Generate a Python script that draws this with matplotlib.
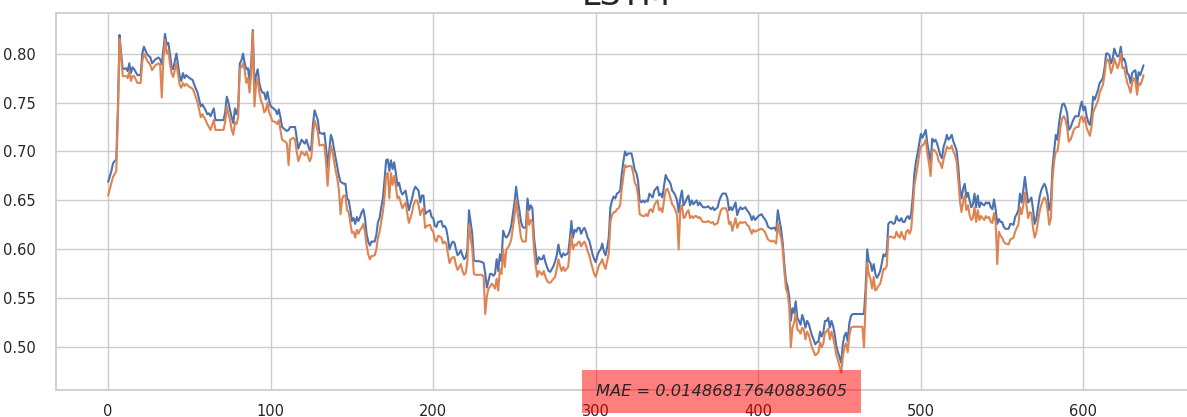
import matplotlib
matplotlib.use("Agg")
import matplotlib.pyplot as plt
import seaborn as sns

# sample index for each reading
steps = [0, 2, 3, 5, 6, 7, 8, 9, 11, 12, 13, 14, 15, 16, 18, 20, 21, 22, 24, 26,
         27, 29, 31, 32, 33, 34, 35, 36, 37, 38, 39, 40, 42, 44, 45, 46, 47, 48, 50, 52,
         53, 55, 57, 58, 60, 61, 62, 63, 65, 66, 68, 71, 72, 73, 74, 75, 76, 77, 78, 79,
         80, 81, 82, 83, 84, 85, 86, 87, 88, 89, 90, 91, 92, 93, 94, 95, 96, 97, 98, 99,
         100, 101, 103, 104, 105, 106, 107, 109, 110, 111, 112, 114, 115, 116, 117, 119, 121, 122, 124, 125,
         126, 127, 128, 129, 130, 132, 133, 134, 135, 136, 137, 138, 139, 140, 141, 142, 143, 144, 145, 146,
         147, 148, 149, 150, 151, 152, 153, 154, 155, 156, 157, 158, 159, 160, 161, 162, 164, 165, 166, 167,
         168, 169, 170, 171, 172, 173, 174, 175, 176, 177, 178, 179, 180, 181, 182, 183, 184, 185, 186, 187,
         188, 189, 190, 191, 192, 193, 194, 195, 196, 198, 199, 200, 201, 202, 203, 205, 206, 207, 208, 209,
         210, 211, 212, 213, 214, 215, 216, 217, 218, 219, 220, 221, 222, 223, 224, 225, 226, 228, 230, 231,
         232, 233, 234, 235, 236, 237, 238, 239, 240, 241, 242, 243, 244, 245, 246, 247, 248, 249, 250, 251,
         252, 253, 254, 255, 256, 257, 258, 259, 260, 261, 262, 263, 264, 265, 266, 267, 268, 269, 270, 271,
         272, 273, 274, 275, 276, 277, 278, 279, 280, 281, 282, 283, 284, 285, 286, 287, 288, 289, 290, 291,
         292, 293, 294, 295, 296, 297, 298, 299, 300, 301, 302, 303, 304, 305, 306, 307, 308, 309, 310, 311,
         312, 313, 314, 315, 316, 317, 318, 319, 320, 322, 323, 324, 325, 326, 327, 328, 329, 330, 331, 332,
         333, 334, 335, 336, 337, 338, 339, 340, 341, 342, 343, 344, 345, 346, 347, 348, 349, 350, 351, 352,
         353, 354, 355, 356, 357, 358, 359, 360, 361, 362, 363, 364, 365, 366, 368, 369, 371, 372, 373, 375,
         376, 377, 378, 380, 381, 382, 383, 384, 386, 387, 388, 389, 390, 392, 393, 394, 395, 396, 397, 398,
         399, 400, 402, 403, 404, 405, 406, 408, 409, 410, 411, 412, 413, 414, 415, 416, 417, 418, 419, 420,
         421, 422, 423, 424, 425, 426, 427, 428, 429, 430, 431, 432, 433, 434, 435, 436, 437, 438, 439, 440,
         441, 442, 443, 444, 445, 446, 447, 448, 449, 450, 451, 452, 453, 454, 455, 456, 457, 458, 464, 465,
         466, 467, 468, 469, 470, 471, 472, 473, 474, 475, 476, 477, 478, 479, 480, 481, 482, 483, 484, 485,
         486, 487, 488, 489, 490, 491, 492, 493, 494, 495, 496, 497, 498, 499, 500, 501, 502, 503, 504, 505,
         506, 507, 508, 509, 510, 511, 512, 513, 514, 515, 516, 517, 518, 519, 520, 521, 522, 523, 524, 525,
         526, 527, 528, 529, 530, 531, 532, 533, 534, 535, 536, 537, 538, 539, 540, 541, 542, 543, 544, 545,
         546, 547, 548, 549, 550, 551, 552, 554, 555, 556, 557, 558, 559, 560, 561, 562, 563, 564, 565, 566,
         567, 568, 569, 570, 571, 572, 573, 574, 575, 576, 577, 578, 579, 580, 581, 582, 583, 584, 585, 586,
         587, 588, 589, 590, 591, 592, 593, 594, 595, 596, 597, 598, 599, 600, 601, 602, 603, 604, 605, 606,
         607, 608, 609, 610, 611, 612, 613, 614, 615, 616, 617, 618, 619, 620, 621, 622, 623, 624, 625, 626,
         627, 628, 629, 630, 631, 632, 633, 634, 635, 636, 637]

actual = [0.669, 0.680, 0.688, 0.692, 0.745, 0.819, 0.800, 0.784, 0.785, 0.782, 0.790, 0.780, 0.786, 0.784, 0.778, 0.778, 0.800, 0.807, 0.799, 0.796,
          0.790, 0.794, 0.796, 0.794, 0.789, 0.805, 0.820, 0.809, 0.811, 0.800, 0.787, 0.784, 0.800, 0.777, 0.772, 0.780, 0.775, 0.778, 0.775, 0.773,
          0.768, 0.760, 0.746, 0.748, 0.742, 0.738, 0.739, 0.736, 0.744, 0.732, 0.732, 0.732, 0.740, 0.756, 0.750, 0.742, 0.735, 0.729, 0.744, 0.738,
          0.745, 0.790, 0.793, 0.800, 0.790, 0.784, 0.785, 0.772, 0.790, 0.824, 0.766, 0.778, 0.784, 0.770, 0.763, 0.760, 0.760, 0.753, 0.761, 0.752,
          0.746, 0.745, 0.742, 0.738, 0.743, 0.735, 0.725, 0.722, 0.721, 0.722, 0.725, 0.725, 0.725, 0.714, 0.703, 0.712, 0.708, 0.712, 0.701, 0.705,
          0.728, 0.742, 0.737, 0.732, 0.719, 0.718, 0.719, 0.705, 0.684, 0.700, 0.717, 0.712, 0.702, 0.693, 0.684, 0.675, 0.669, 0.668, 0.667, 0.667,
          0.652, 0.650, 0.640, 0.629, 0.632, 0.626, 0.633, 0.629, 0.633, 0.638, 0.641, 0.632, 0.616, 0.608, 0.604, 0.608, 0.608, 0.615, 0.628, 0.632,
          0.643, 0.652, 0.670, 0.691, 0.692, 0.680, 0.691, 0.682, 0.689, 0.678, 0.665, 0.668, 0.660, 0.656, 0.658, 0.660, 0.650, 0.640, 0.646, 0.652,
          0.660, 0.664, 0.662, 0.660, 0.648, 0.655, 0.655, 0.636, 0.638, 0.640, 0.633, 0.632, 0.624, 0.623, 0.628, 0.629, 0.623, 0.624, 0.621, 0.612,
          0.600, 0.605, 0.608, 0.607, 0.600, 0.594, 0.596, 0.599, 0.594, 0.590, 0.592, 0.600, 0.640, 0.628, 0.616, 0.589, 0.588, 0.588, 0.587, 0.586,
          0.575, 0.561, 0.568, 0.575, 0.575, 0.573, 0.575, 0.590, 0.578, 0.595, 0.588, 0.619, 0.614, 0.612, 0.614, 0.618, 0.624, 0.636, 0.648, 0.664,
          0.650, 0.640, 0.628, 0.623, 0.622, 0.622, 0.652, 0.640, 0.645, 0.642, 0.612, 0.598, 0.585, 0.592, 0.590, 0.590, 0.594, 0.587, 0.582, 0.578,
          0.577, 0.580, 0.583, 0.588, 0.594, 0.605, 0.596, 0.592, 0.596, 0.594, 0.595, 0.596, 0.610, 0.629, 0.612, 0.620, 0.618, 0.622, 0.622, 0.616,
          0.620, 0.622, 0.618, 0.612, 0.609, 0.602, 0.595, 0.590, 0.587, 0.594, 0.598, 0.600, 0.606, 0.598, 0.594, 0.602, 0.612, 0.643, 0.650, 0.654,
          0.652, 0.657, 0.658, 0.660, 0.677, 0.690, 0.700, 0.696, 0.698, 0.698, 0.690, 0.681, 0.678, 0.670, 0.650, 0.648, 0.650, 0.648, 0.650, 0.649,
          0.657, 0.655, 0.653, 0.660, 0.662, 0.664, 0.655, 0.657, 0.653, 0.665, 0.676, 0.672, 0.670, 0.667, 0.660, 0.658, 0.655, 0.650, 0.638, 0.652,
          0.660, 0.645, 0.648, 0.652, 0.655, 0.645, 0.650, 0.646, 0.648, 0.650, 0.645, 0.648, 0.645, 0.643, 0.643, 0.644, 0.641, 0.643, 0.640, 0.643,
          0.650, 0.654, 0.657, 0.657, 0.652, 0.640, 0.643, 0.640, 0.648, 0.635, 0.640, 0.643, 0.641, 0.643, 0.640, 0.638, 0.635, 0.630, 0.634, 0.630,
          0.632, 0.634, 0.636, 0.633, 0.631, 0.628, 0.623, 0.621, 0.622, 0.622, 0.619, 0.640, 0.630, 0.621, 0.607, 0.585, 0.568, 0.562, 0.552, 0.527,
          0.540, 0.535, 0.547, 0.530, 0.527, 0.523, 0.533, 0.528, 0.520, 0.527, 0.524, 0.518, 0.512, 0.508, 0.503, 0.505, 0.506, 0.516, 0.511, 0.515,
          0.527, 0.527, 0.530, 0.520, 0.527, 0.522, 0.513, 0.501, 0.495, 0.490, 0.484, 0.503, 0.512, 0.515, 0.506, 0.525, 0.532, 0.534, 0.534, 0.534,
          0.560, 0.600, 0.588, 0.586, 0.578, 0.585, 0.575, 0.571, 0.574, 0.578, 0.586, 0.595, 0.593, 0.597, 0.626, 0.628, 0.628, 0.626, 0.627, 0.634,
          0.630, 0.629, 0.632, 0.628, 0.628, 0.632, 0.634, 0.631, 0.636, 0.653, 0.677, 0.690, 0.698, 0.708, 0.718, 0.714, 0.718, 0.722, 0.708, 0.698,
          0.689, 0.713, 0.710, 0.712, 0.708, 0.702, 0.696, 0.693, 0.705, 0.710, 0.717, 0.712, 0.714, 0.717, 0.710, 0.706, 0.701, 0.685, 0.662, 0.652,
          0.662, 0.667, 0.653, 0.658, 0.650, 0.643, 0.646, 0.657, 0.643, 0.655, 0.643, 0.648, 0.646, 0.645, 0.648, 0.647, 0.648, 0.643, 0.641, 0.651,
          0.641, 0.626, 0.631, 0.628, 0.628, 0.623, 0.621, 0.621, 0.626, 0.626, 0.625, 0.633, 0.636, 0.640, 0.657, 0.648, 0.660, 0.674, 0.660, 0.648,
          0.650, 0.653, 0.641, 0.626, 0.631, 0.642, 0.653, 0.660, 0.664, 0.667, 0.663, 0.655, 0.640, 0.648, 0.684, 0.700, 0.717, 0.712, 0.729, 0.740,
          0.748, 0.749, 0.745, 0.739, 0.722, 0.724, 0.729, 0.733, 0.736, 0.736, 0.736, 0.745, 0.751, 0.742, 0.746, 0.736, 0.730, 0.727, 0.737, 0.756,
          0.753, 0.758, 0.763, 0.770, 0.772, 0.775, 0.785, 0.800, 0.800, 0.798, 0.790, 0.795, 0.805, 0.800, 0.797, 0.798, 0.807, 0.793, 0.795, 0.790,
          0.780, 0.778, 0.770, 0.780, 0.782, 0.783, 0.768, 0.781, 0.778, 0.783, 0.788]

predicted = [0.655, 0.668, 0.674, 0.680, 0.735, 0.815, 0.795, 0.777, 0.777, 0.775, 0.782, 0.772, 0.777, 0.777, 0.770, 0.770, 0.792, 0.800, 0.793, 0.788,
             0.783, 0.788, 0.790, 0.788, 0.755, 0.795, 0.814, 0.800, 0.803, 0.790, 0.780, 0.776, 0.790, 0.768, 0.765, 0.770, 0.767, 0.769, 0.766, 0.764,
             0.760, 0.750, 0.735, 0.738, 0.732, 0.728, 0.725, 0.722, 0.732, 0.722, 0.722, 0.722, 0.730, 0.746, 0.738, 0.732, 0.722, 0.717, 0.730, 0.728,
             0.735, 0.785, 0.786, 0.790, 0.783, 0.770, 0.775, 0.760, 0.780, 0.822, 0.746, 0.768, 0.774, 0.760, 0.752, 0.748, 0.740, 0.742, 0.750, 0.740,
             0.736, 0.731, 0.730, 0.728, 0.732, 0.722, 0.712, 0.710, 0.708, 0.686, 0.712, 0.714, 0.712, 0.700, 0.690, 0.700, 0.696, 0.700, 0.690, 0.694,
             0.716, 0.732, 0.727, 0.720, 0.706, 0.707, 0.706, 0.690, 0.665, 0.690, 0.706, 0.700, 0.690, 0.680, 0.672, 0.660, 0.636, 0.652, 0.655, 0.655,
             0.640, 0.638, 0.627, 0.617, 0.618, 0.612, 0.620, 0.616, 0.620, 0.622, 0.626, 0.618, 0.604, 0.595, 0.590, 0.593, 0.594, 0.600, 0.612, 0.618,
             0.628, 0.638, 0.652, 0.675, 0.678, 0.652, 0.678, 0.666, 0.675, 0.664, 0.652, 0.654, 0.648, 0.642, 0.645, 0.648, 0.637, 0.627, 0.632, 0.638,
             0.646, 0.650, 0.650, 0.645, 0.635, 0.640, 0.642, 0.622, 0.624, 0.625, 0.620, 0.618, 0.610, 0.608, 0.614, 0.612, 0.606, 0.608, 0.606, 0.596,
             0.586, 0.590, 0.592, 0.592, 0.584, 0.579, 0.582, 0.585, 0.578, 0.574, 0.576, 0.588, 0.625, 0.612, 0.600, 0.575, 0.574, 0.574, 0.574, 0.572,
             0.534, 0.552, 0.560, 0.562, 0.565, 0.563, 0.560, 0.570, 0.558, 0.580, 0.575, 0.600, 0.582, 0.600, 0.602, 0.605, 0.610, 0.622, 0.634, 0.650,
             0.636, 0.625, 0.612, 0.608, 0.608, 0.608, 0.640, 0.625, 0.630, 0.628, 0.600, 0.584, 0.572, 0.578, 0.576, 0.574, 0.578, 0.572, 0.568, 0.566,
             0.566, 0.568, 0.570, 0.572, 0.580, 0.590, 0.583, 0.578, 0.582, 0.578, 0.580, 0.582, 0.598, 0.615, 0.600, 0.605, 0.604, 0.607, 0.608, 0.603,
             0.606, 0.608, 0.604, 0.598, 0.594, 0.587, 0.581, 0.575, 0.572, 0.578, 0.584, 0.586, 0.590, 0.584, 0.580, 0.588, 0.596, 0.628, 0.635, 0.638,
             0.638, 0.641, 0.642, 0.645, 0.662, 0.675, 0.686, 0.684, 0.685, 0.685, 0.678, 0.668, 0.665, 0.655, 0.636, 0.635, 0.634, 0.634, 0.636, 0.634,
             0.640, 0.641, 0.638, 0.645, 0.648, 0.650, 0.640, 0.642, 0.638, 0.650, 0.660, 0.662, 0.658, 0.652, 0.646, 0.644, 0.640, 0.635, 0.600, 0.640,
             0.645, 0.632, 0.633, 0.638, 0.640, 0.632, 0.634, 0.632, 0.634, 0.634, 0.632, 0.633, 0.630, 0.628, 0.628, 0.629, 0.627, 0.628, 0.625, 0.627,
             0.634, 0.640, 0.642, 0.642, 0.638, 0.626, 0.628, 0.619, 0.632, 0.622, 0.626, 0.628, 0.627, 0.628, 0.625, 0.624, 0.620, 0.616, 0.620, 0.618,
             0.619, 0.620, 0.621, 0.620, 0.618, 0.614, 0.610, 0.608, 0.609, 0.608, 0.606, 0.627, 0.617, 0.612, 0.600, 0.578, 0.560, 0.555, 0.542, 0.500,
             0.520, 0.525, 0.535, 0.518, 0.517, 0.514, 0.520, 0.518, 0.508, 0.516, 0.513, 0.506, 0.500, 0.496, 0.492, 0.493, 0.495, 0.505, 0.500, 0.504,
             0.515, 0.516, 0.519, 0.508, 0.516, 0.510, 0.502, 0.492, 0.487, 0.480, 0.474, 0.490, 0.500, 0.504, 0.495, 0.512, 0.520, 0.521, 0.521, 0.500,
             0.545, 0.586, 0.575, 0.570, 0.560, 0.572, 0.558, 0.560, 0.563, 0.565, 0.572, 0.580, 0.580, 0.583, 0.612, 0.613, 0.613, 0.612, 0.612, 0.618,
             0.614, 0.612, 0.618, 0.613, 0.610, 0.618, 0.620, 0.616, 0.620, 0.640, 0.665, 0.675, 0.685, 0.697, 0.705, 0.706, 0.708, 0.712, 0.698, 0.688,
             0.675, 0.700, 0.702, 0.700, 0.697, 0.690, 0.688, 0.683, 0.692, 0.698, 0.705, 0.703, 0.703, 0.706, 0.700, 0.696, 0.690, 0.672, 0.650, 0.638,
             0.648, 0.655, 0.640, 0.645, 0.635, 0.630, 0.632, 0.643, 0.628, 0.640, 0.630, 0.634, 0.632, 0.630, 0.634, 0.632, 0.633, 0.628, 0.627, 0.637,
             0.628, 0.585, 0.618, 0.614, 0.612, 0.608, 0.606, 0.605, 0.610, 0.611, 0.612, 0.618, 0.622, 0.625, 0.643, 0.636, 0.645, 0.658, 0.645, 0.632,
             0.638, 0.637, 0.622, 0.612, 0.617, 0.628, 0.638, 0.645, 0.650, 0.653, 0.650, 0.640, 0.625, 0.632, 0.672, 0.690, 0.700, 0.700, 0.712, 0.726,
             0.734, 0.736, 0.732, 0.724, 0.710, 0.712, 0.716, 0.722, 0.724, 0.725, 0.725, 0.733, 0.736, 0.730, 0.735, 0.724, 0.720, 0.716, 0.725, 0.740,
             0.744, 0.748, 0.752, 0.760, 0.764, 0.768, 0.778, 0.792, 0.794, 0.790, 0.780, 0.785, 0.795, 0.790, 0.785, 0.790, 0.800, 0.785, 0.786, 0.778,
             0.770, 0.766, 0.760, 0.770, 0.775, 0.772, 0.758, 0.770, 0.768, 0.772, 0.778]

mae_text = "MAE = 0.01486817640883605"

sns.set_theme(style="whitegrid")
plt.rcParams['font.family'] = ['DejaVu Sans']

fig = plt.figure(figsize=(11.87, 4.17), dpi=100)
ax = fig.add_axes([0.0475, 0.065, 0.9595, 0.904])

ax.plot(steps, actual, linewidth=1.5)
ax.plot(steps, predicted, linewidth=1.5)
ax.set_title("LSTM", fontsize=24)
ax.tick_params(axis='y', labelsize=10.5, pad=9)
ax.tick_params(axis='x', labelsize=10.5, pad=4)

ax.text(300, 0.45, mae_text, style='italic', fontsize=11.7,
        bbox=dict(facecolor='red', alpha=0.5, pad=10, edgecolor='none'))

fig.savefig("out.png", dpi=100)
